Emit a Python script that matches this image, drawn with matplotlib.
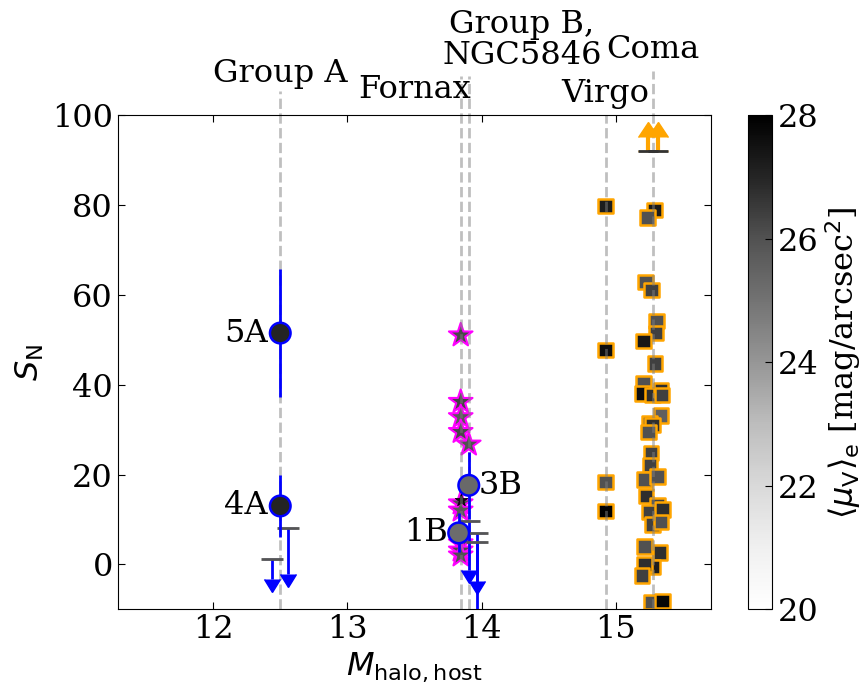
import numpy as np
import matplotlib
matplotlib.use("Agg")
import matplotlib.pyplot as plt
import matplotlib.transforms as mtransforms
from matplotlib.colors import Normalize

plt.rcParams['font.family'] = 'DejaVu Serif'
plt.rcParams['mathtext.fontset'] = 'dejavusans'
plt.rcParams['font.size'] = 23
plt.rcParams['xtick.direction'] = 'in'
plt.rcParams['ytick.direction'] = 'in'
plt.rcParams['xtick.top'] = True
plt.rcParams['ytick.right'] = True
plt.rcParams['xtick.major.size'] = 5
plt.rcParams['ytick.major.size'] = 5

# host halo masses (dashed lines)
host_names = ['Group A', 'Fornax', 'Group B,\nNGC5846', 'Virgo', 'Coma']
host_mass = [12.5, 13.845, 13.905, 14.925, 15.28]

# group dwarfs with measured S_N
grp_labels = ['5A', '4A', '1B', '3B']
grp_x = [12.5, 12.5, 13.83, 13.905]
grp_y = [51.5, 13.0, 7.0, 17.6]
grp_elo = [14.3, 6.9, 4.2, 7.4]
grp_ehi = [14.2, 6.8, 4.5, 7.4]
grp_mu = [27.0, 27.0, 25.2, 25.3]

# group dwarfs with upper limits
ul_x = [12.44, 12.56, 13.905, 13.97, 13.97]
ul_y = [1.1, 8.1, 9.6, 7.0, 4.9]
ul_len = [4.4, 10.3, 10.9, 10.6, 21.0]

# Fornax dwarfs
fnx_x = [13.845, 13.845, 13.845, 13.845, 13.905, 13.845, 13.845, 13.845, 13.845, 13.845]
fnx_y = [51.0, 36.2, 32.8, 29.5, 26.7, 13.6, 12.0, 4.7, 3.1, 2.0]
fnx_mu = [26.2, 26.3, 25.8, 26.2, 26.0, 26.0, 25.8, 26.0, 26.2, 26.0]
fnx_small_x = [13.845]
fnx_small_y = [14.4]
fnx_small_mu = [27.5]

# Virgo dwarfs
vir_x = [14.925, 14.925, 14.925, 14.925]
vir_y = [79.8, 47.7, 18.3, 11.9]
vir_mu = [27.2, 27.6, 26.0, 28.0]

# Coma dwarfs
coma_x = [15.289, 15.239, 15.222, 15.269, 15.306, 15.302, 15.209, 15.294, 15.207,
          15.202, 15.276, 15.339, 15.346, 15.339, 15.252, 15.276, 15.246, 15.264,
          15.257, 15.214, 15.313, 15.227, 15.313, 15.252, 15.351, 15.276, 15.339,
          15.214, 15.331, 15.276, 15.214, 15.197, 15.264, 15.351]
coma_y = [78.9, 77.2, 62.9, 61.1, 54.2, 51.5, 49.7, 44.7, 40.3,
          38.0, 37.7, 38.8, 37.7, 33.2, 31.4, 31.0, 29.5, 24.8,
          22.1, 18.9, 19.5, 15.2, 13.1, 11.7, 12.2, 8.9, 9.4,
          4.0, 2.7, -0.6, 0.0, -2.5, -8.4, -8.2]
coma_mu = [27.3, 26.0, 26.0, 26.4, 26.0, 26.4, 27.4, 26.4, 26.0,
           27.6, 26.8, 26.8, 26.4, 25.6, 26.0, 26.8, 26.0, 26.4,
           26.4, 26.0, 26.0, 26.8, 26.4, 26.4, 26.8, 26.4, 26.0,
           26.0, 26.8, 27.2, 26.8, 26.4, 26.0, 27.8]

# Coma lower limits
ll_x = [15.24, 15.313]
ll_y = [92.0, 92.0]
ll_len = [3.2, 3.2]

fig = plt.figure(figsize=(8.67, 6.9), dpi=100)
ax = fig.add_axes([0.136, 0.117, 0.684, 0.716])
cax = fig.add_axes([0.863, 0.117, 0.028, 0.716])

cmap = 'Greys'
norm = Normalize(vmin=20, vmax=28)
trans = mtransforms.blended_transform_factory(ax.transData, ax.transAxes)

# dashed host lines
line_top = [1.05, 1.08, 1.08, 1.0, 1.09]
for m, t in zip(host_mass, line_top):
    ax.axvline(m, ymin=0, ymax=t, color='gray', alpha=0.5, ls='--', lw=2,
               clip_on=False, zorder=2)

txt_x = [12.5, 13.5, 14.3, 14.92, 15.28]
txt_y = [1.067, 1.034, 1.089, 1.026, 1.115]
txt_va = ['baseline', 'baseline', 'bottom', 'baseline', 'baseline']
for name, xx, yy, va in zip(host_names, txt_x, txt_y, txt_va):
    ax.text(xx, yy, name, transform=trans, ha='center', va=va, linespacing=1.0)

# Coma & Virgo
sc = ax.scatter(coma_x, coma_y, c=coma_mu, cmap=cmap, norm=norm, marker='s', s=110,
                edgecolors='orange', linewidths=1.8, zorder=1)
ax.scatter(vir_x, vir_y, c=vir_mu, cmap=cmap, norm=norm, marker='s', s=110,
           edgecolors='orange', linewidths=1.8, zorder=1)

# Fornax
ax.scatter(fnx_x, fnx_y, c=fnx_mu, cmap=cmap, norm=norm, marker='*', s=320,
           edgecolors='magenta', linewidths=1.5, zorder=1)
ax.scatter(fnx_small_x, fnx_small_y, c=fnx_small_mu, cmap=cmap, norm=norm, marker='*',
           s=90, edgecolors='k', linewidths=0.5, zorder=1.5)

# upper limits
eb = ax.errorbar(ul_x, ul_y, yerr=ul_len, uplims=True, fmt='none', ecolor='blue',
                 elinewidth=2, capsize=6, zorder=3)
for cap in eb[1]:
    cap.set_color('blue')
    cap.set_markerfacecolor('blue')
    cap.set_markeredgecolor('blue')
ax.plot(ul_x, ul_y, ls='none', marker='_', ms=16, mew=2, color='#555555', zorder=3)

# Coma lower limits
eb = ax.errorbar(ll_x, ll_y, yerr=ll_len, lolims=True, fmt='none', ecolor='orange',
                 elinewidth=3, capsize=7, zorder=3)
for cap in eb[1]:
    cap.set_color('orange')
    cap.set_markerfacecolor('orange')
    cap.set_markeredgecolor('orange')
ax.plot(ll_x, ll_y, ls='none', marker='_', ms=14, mew=2, color='#333333', zorder=3)

# group dwarfs
ax.errorbar(grp_x, grp_y, yerr=[grp_elo, grp_ehi], fmt='none', ecolor='blue',
            elinewidth=2, zorder=3)
ax.scatter(grp_x, grp_y, c=grp_mu, cmap=cmap, norm=norm, marker='o', s=220,
           edgecolors='blue', linewidths=1.8, zorder=4)
lab_dx = [-0.093, -0.093, -0.083, 0.074]
lab_ha = ['right', 'right', 'right', 'left']
for lab, xx, yy, dx, ha in zip(grp_labels, grp_x, grp_y, lab_dx, lab_ha):
    ax.text(xx + dx, yy, lab, ha=ha, va='center', zorder=5)

ax.set_xlim(11.29, 15.71)
ax.set_ylim(-10, 100)
ax.set_xticks([12, 13, 14, 15])
ax.set_yticks([0, 20, 40, 60, 80, 100])
ax.set_xlabel(r'$M_{\rm halo,host}$')
ax.set_ylabel(r'$S_{\rm N}$')

cb = fig.colorbar(sc, cax=cax)
cb.set_ticks([20, 22, 24, 26, 28])
cb.ax.tick_params(direction='in', length=5)
cb.set_label(r'$\langle\mu_{\rm V}\rangle_{\rm e}$ [mag/arcsec$^2$]')

fig.savefig('out.png', dpi=100)
